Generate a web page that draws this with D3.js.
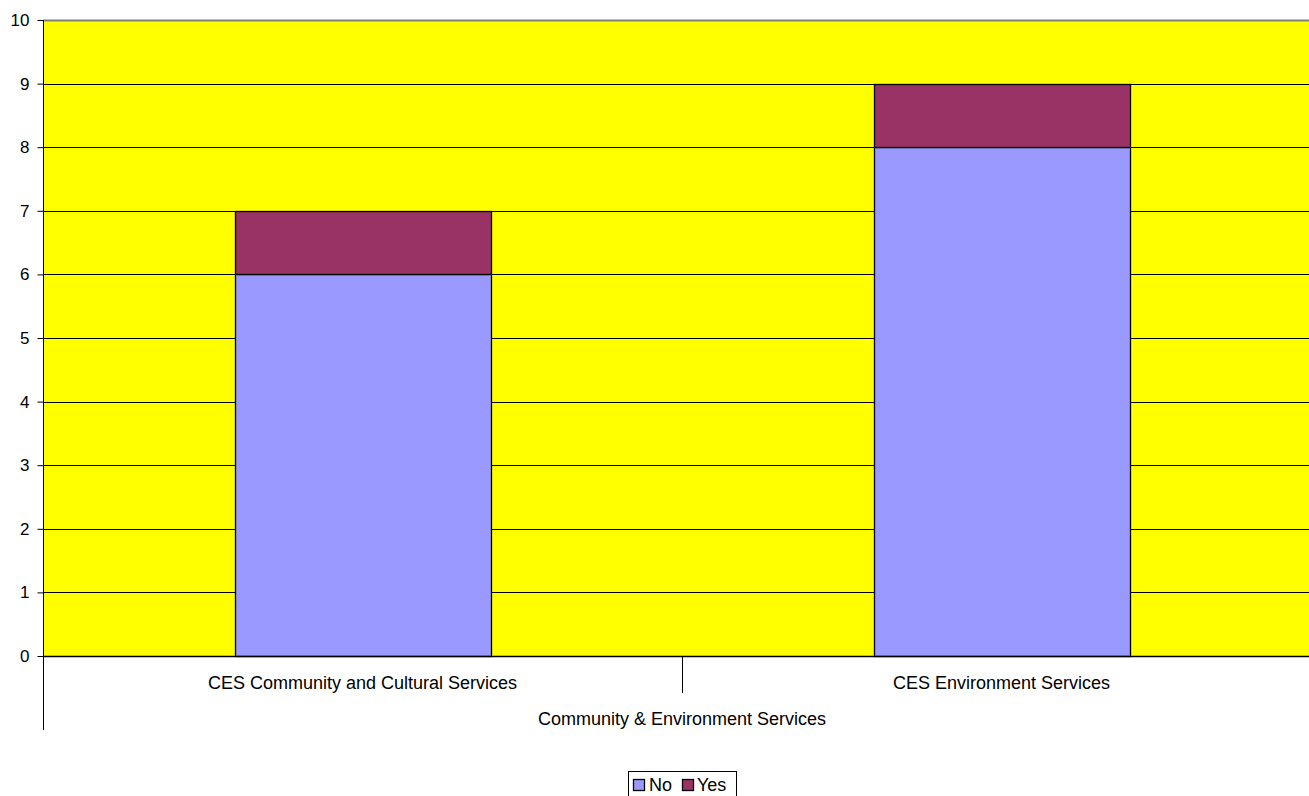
<!DOCTYPE html>
<html>
<head>
<meta charset="utf-8">
<script src="https://cdn.jsdelivr.net/npm/d3@7/dist/d3.min.js"></script>
<style>
  html, body { margin: 0; padding: 0; background: #fff; overflow: hidden; }
  svg { display: block; font-family: "Liberation Sans", Arial, sans-serif; }
</style>
</head>
<body>
<svg id="chart" width="1309" height="796"></svg>
<script>
// Departments within the group, and counts per answer
const categories = ["CES Community and Cultural Services", "CES Environment Services"];
const groupLabel = "Community & Environment Services";
const seriesNames = ["No", "Yes"];
const noValues = [6, 8];
const yesValues = [1, 1];
const yTicks = [0, 1, 2, 3, 4, 5, 6, 7, 8, 9, 10];
const seriesColors = ["#9999ff", "#993366"];

const svg = d3.select("#chart");
const plotLeft = 43, plotTop = 20, plotBottom = 656, plotRight = 1321;

const x = d3.scaleBand().domain(categories).range([plotLeft, plotRight]).paddingInner(0).paddingOuter(0);
const y = d3.scaleLinear().domain([0, 10]).range([plotBottom, plotTop]);

// plot background
svg.append("rect")
  .attr("x", plotLeft).attr("y", plotTop)
  .attr("width", plotRight - plotLeft).attr("height", plotBottom - plotTop)
  .attr("fill", "#ffff00");

// horizontal gridlines
svg.append("g").selectAll("line")
  .data(yTicks.filter(d => d > 0 && d < 10))
  .join("line")
  .attr("x1", plotLeft).attr("x2", plotRight)
  .attr("y1", d => Math.round(y(d)) + 0.5).attr("y2", d => Math.round(y(d)) + 0.5)
  .attr("stroke", "#000").attr("stroke-width", 1);

// top border
svg.append("line")
  .attr("x1", plotLeft).attr("x2", plotRight)
  .attr("y1", plotTop + 0.5).attr("y2", plotTop + 0.5)
  .attr("stroke", "#808080").attr("stroke-width", 2);

// stacked bars
const rows = categories.map((c, i) => ({ cat: c, No: noValues[i], Yes: yesValues[i] }));
const stacked = d3.stack().keys(seriesNames)(rows);
const barWidth = x.bandwidth() * 0.4;
svg.append("g").selectAll("g")
  .data(stacked)
  .join("g")
  .attr("fill", (d, i) => seriesColors[i])
  .selectAll("rect")
  .data(d => d)
  .join("rect")
  .attr("x", d => Math.round(x(d.data.cat) + (x.bandwidth() - barWidth) / 2) + 0.5)
  .attr("y", d => Math.round(y(d[1])) + 0.5)
  .attr("width", Math.round(barWidth))
  .attr("height", d => Math.round(y(d[0])) - Math.round(y(d[1])))
  .attr("stroke", "#000").attr("stroke-width", 1.3);

// y axis
const yAxis = svg.append("g")
  .attr("transform", `translate(${plotLeft + 0.5},0)`)
  .call(d3.axisLeft(y).tickValues(yTicks).tickSize(6).tickPadding(8).tickFormat(d3.format("d")));
yAxis.select(".domain").remove();
yAxis.attr("font-size", null).attr("font-family", null);
yAxis.selectAll(".tick line").attr("stroke", "#000");
yAxis.selectAll(".tick text").style("font-size", "17px").attr("fill", "#000");

// y axis line extended down through the category rows
svg.append("line")
  .attr("x1", plotLeft + 0.5).attr("x2", plotLeft + 0.5)
  .attr("y1", plotTop).attr("y2", 730)
  .attr("stroke", "#000").attr("stroke-width", 1);

// baseline
svg.append("line")
  .attr("x1", plotLeft).attr("x2", plotRight)
  .attr("y1", plotBottom + 0.5).attr("y2", plotBottom + 0.5)
  .attr("stroke", "#000").attr("stroke-width", 1.5);

// category dividers
svg.append("g").selectAll("line")
  .data(categories.slice(1))
  .join("line")
  .attr("x1", d => Math.round(x(d)) + 0.5).attr("x2", d => Math.round(x(d)) + 0.5)
  .attr("y1", plotBottom).attr("y2", 693)
  .attr("stroke", "#000").attr("stroke-width", 1);

// category labels
svg.append("g").selectAll("text")
  .data(categories)
  .join("text")
  .attr("x", d => x(d) + x.bandwidth() / 2)
  .attr("y", 689)
  .attr("text-anchor", "middle")
  .style("font-size", "18px")
  .text(d => d);

// group label
svg.append("text")
  .attr("x", 682)
  .attr("y", 725)
  .attr("text-anchor", "middle")
  .style("font-size", "18px")
  .text(groupLabel);

// legend
const lg = svg.append("g");
lg.append("rect")
  .attr("x", 628.5).attr("y", 771.5)
  .attr("width", 108).attr("height", 30)
  .attr("fill", "#fff").attr("stroke", "#000").attr("stroke-width", 1);
const legendItems = [
  { name: seriesNames[0], color: seriesColors[0], sx: 633, tx: 649 },
  { name: seriesNames[1], color: seriesColors[1], sx: 682, tx: 697 }
];
legendItems.forEach(it => {
  lg.append("rect")
    .attr("x", it.sx + 0.5).attr("y", 779.5)
    .attr("width", 11).attr("height", 11)
    .attr("fill", it.color).attr("stroke", "#000").attr("stroke-width", 1.3);
  lg.append("text")
    .attr("x", it.tx).attr("y", 791)
    .style("font-size", "18px")
    .text(it.name);
});
</script>
</body>
</html>
